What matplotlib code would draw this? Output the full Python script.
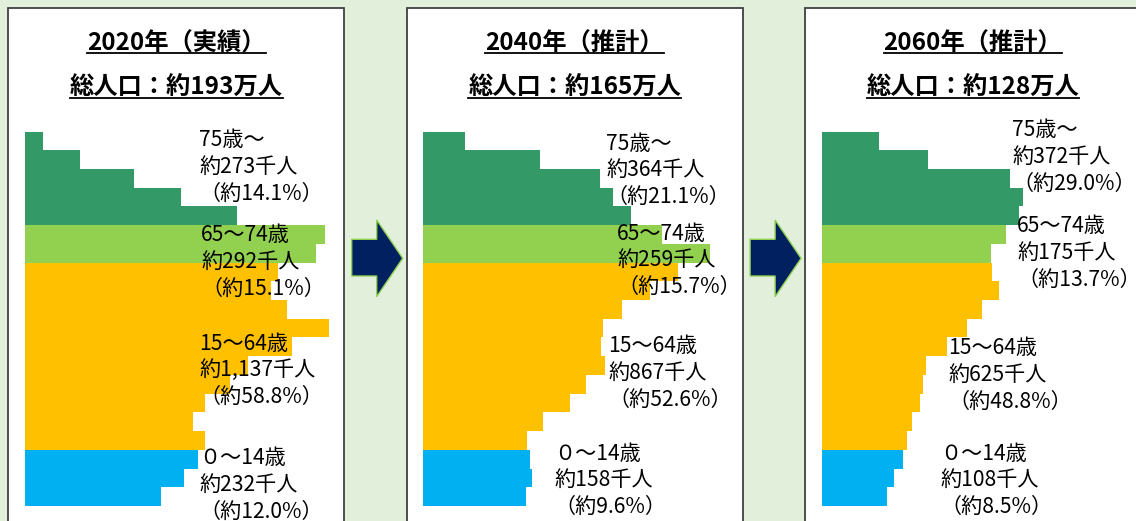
import matplotlib
matplotlib.use("Agg")
import matplotlib.pyplot as plt
from matplotlib.patches import Rectangle, Polygon
from matplotlib.lines import Line2D

plt.rcParams['font.family'] = ['Noto Sans CJK JP', 'DejaVu Sans']

# ---------------- data ----------------
age_groups = ['0-4', '5-9', '10-14', '15-19', '20-24', '25-29', '30-34', '35-39',
              '40-44', '45-49', '50-54', '55-59', '60-64', '65-69', '70-74',
              '75-79', '80-84', '85-89', '90-94', '95+']
# population by age group (thousand persons), youngest first
pop_2020 = [67.3, 78.9, 86.0, 89.3, 83.5, 89.3, 101.7, 110.7, 132.4, 150.9,
            129.9, 121.9, 125.7, 144.4, 148.9, 105.4, 77.3, 54.1, 27.3, 8.8]
pop_2040 = [51.0, 53.9, 53.0, 51.3, 59.2, 72.8, 80.7, 90.2, 88.2, 89.0,
            98.4, 112.5, 126.6, 142.3, 118.3, 102.9, 94.3, 87.7, 57.9, 20.7]
pop_2060 = [32.3, 35.9, 40.2, 42.2, 44.7, 48.8, 50.1, 51.8, 62.0, 72.0,
            79.4, 88.2, 84.5, 84.2, 91.5, 97.8, 99.8, 93.4, 52.6, 28.6]

group_names = ['０～14歳', '15～64歳', '65～74歳', '75歳～']
group_sizes = [3, 10, 2, 5]          # number of 5-year classes in each group
group_colors = ['#00b0f0', '#ffc000', '#92d050', '#339966']

totals_2020 = [232, 1137, 292, 273]
totals_2040 = [158, 867, 259, 364]
totals_2060 = [108, 625, 175, 372]
pct_2020 = [12.0, 58.8, 15.1, 14.1]
pct_2040 = [9.6, 52.6, 15.7, 21.1]
pct_2060 = [8.5, 48.8, 13.7, 29.0]

years = ['2020年（実績）', '2040年（推計）', '2060年（推計）']
total_pop = ['約193万人', '約165万人', '約128万人']

# ---------------- layout (pixels) ----------------
W, H = 1136, 521
DPI = 100
def fx(x): return x / W
def fy(y): return 1 - y / H

panel_left = [8.3, 406.7, 805.0]
panel_w = 336.0
bar_offset = 16.7
bar_top, bar_bottom = 131.5, 506.0
px_per_thousand = 2.015
axes_w = 320.0

# label anchors (left x, first-line centre y) per panel, per group
label_pos = [
    [(199, 458.5), (199, 343.5), (201, 235.0), (199, 140.0)],
    [(554, 453.5), (608, 346.0), (617, 233.5), (606, 143.5)],
    [(940, 453.5), (948, 348.5), (1017, 226.5), (1012, 130.5)],
]
line_gap = 26.8

fig = plt.figure(figsize=(W / DPI, H / DPI), dpi=DPI, facecolor='#e2efda')

pops = [pop_2020, pop_2040, pop_2060]
totals = [totals_2020, totals_2040, totals_2060]
pcts = [pct_2020, pct_2040, pct_2060]

bar_colors = []
for c, n in zip(group_colors, group_sizes):
    bar_colors += [c] * n

title_texts = []
for i in range(3):
    L = panel_left[i]
    # panel box
    fig.add_artist(Rectangle((fx(L), fy(535)), panel_w / W, (535 - 7.5) / H,
                             transform=fig.transFigure, facecolor='white',
                             edgecolor='#404040', linewidth=1.3, zorder=0.5))
    # bars
    ax = fig.add_axes([fx(L + bar_offset), fy(bar_bottom), axes_w / W,
                       (bar_bottom - bar_top) / H])
    ax.set_zorder(1)
    ax.patch.set_alpha(0)
    ax.barh(range(len(age_groups)), pops[i], height=1.0, left=0,
            color=bar_colors, linewidth=0, antialiased=False)
    ax.set_xlim(0, axes_w / px_per_thousand)
    ax.set_ylim(-0.5, len(age_groups) - 0.5)
    ax.axis('off')

    # titles
    cx = L + panel_w / 2
    t1 = fig.text(fx(cx), fy(43.5), years[i], ha='center', va='center',
                  fontsize=17.5, fontweight='bold', zorder=3)
    t2 = fig.text(fx(cx), fy(87.5), '総人口：' + total_pop[i], ha='center',
                  va='center', fontsize=17.5, fontweight='bold', zorder=3)
    title_texts.append((t1, 52.5))
    title_texts.append((t2, 97.5))

    # group labels
    for g in range(4):
        x, y = label_pos[i][g]
        lines = [group_names[g], f'約{totals[i][g]:,}千人', f'（約{pcts[i][g]:.1f}%）']
        for k, s in enumerate(lines):
            fig.text(fx(x), fy(y + k * line_gap), s, ha='left', va='center',
                     fontsize=15.2, color='black', zorder=3)

# arrows between panels
arrow_shape = [(0, 239.3), (25, 239.3), (25, 220), (51, 258.3), (25, 296.7),
               (25, 276), (0, 276)]
for x0 in [351.7, 750.1]:
    pts = [(fx(x0 + dx), fy(y)) for dx, y in arrow_shape]
    fig.add_artist(Polygon(pts, closed=True, transform=fig.transFigure,
                           facecolor='#002060', edgecolor='#92d050',
                           linewidth=1.0, zorder=2))

# underlines for titles
fig.canvas.draw()
renderer = fig.canvas.get_renderer()
for t, uy in title_texts:
    bb = t.get_window_extent(renderer)
    x0, x1 = bb.x0 / W, bb.x1 / W
    fig.add_artist(Line2D([x0, x1], [fy(uy), fy(uy)], transform=fig.transFigure,
                          color='black', linewidth=1.3, zorder=3))

fig.savefig('out.png', dpi=DPI, facecolor=fig.get_facecolor())
